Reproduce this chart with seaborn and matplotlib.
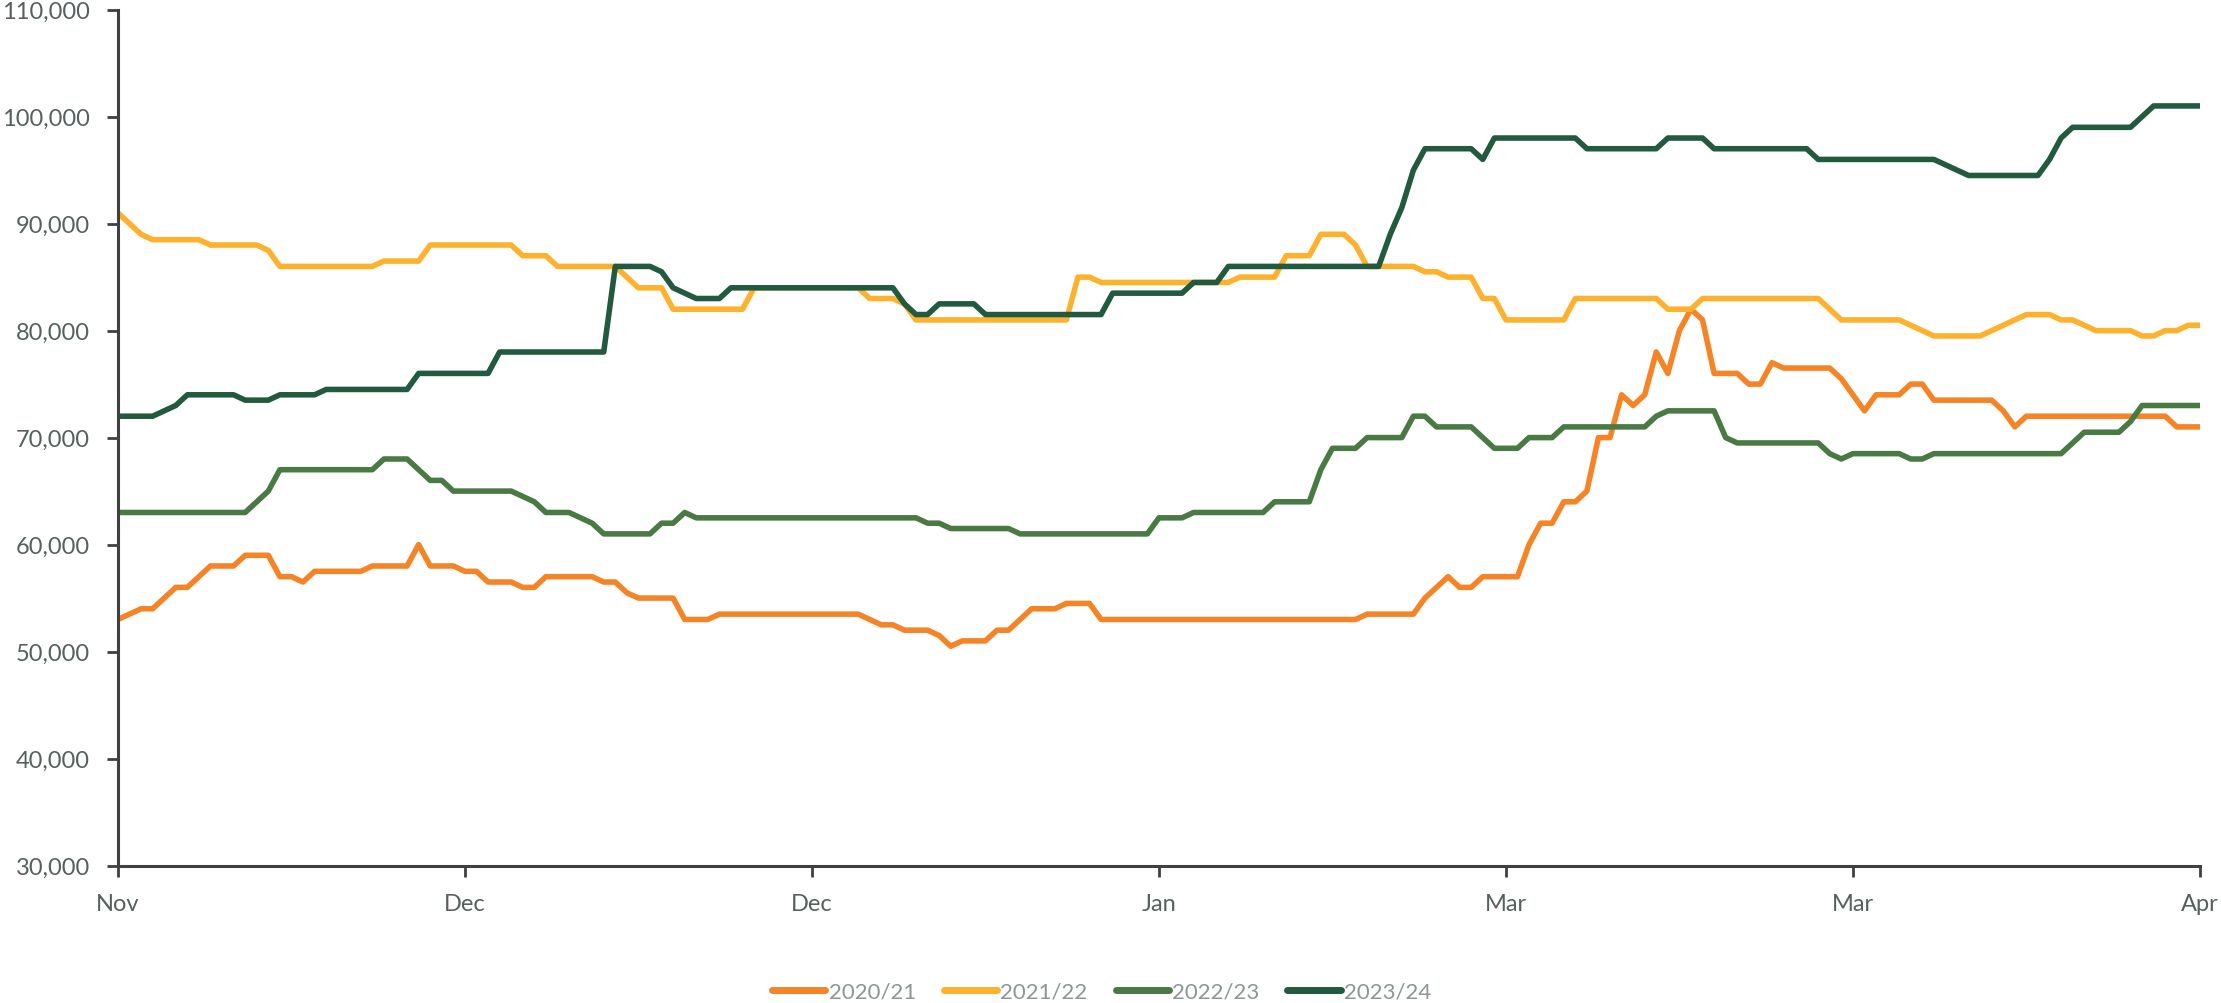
import matplotlib
matplotlib.use("Agg")
import matplotlib.pyplot as plt
import matplotlib.dates as mdates
from matplotlib.ticker import FuncFormatter, MultipleLocator
import pandas as pd
import seaborn as sns

# Season labels and line colours
seasons = ["2020/21", "2021/22", "2022/23", "2023/24"]
colors = ["#F58426", "#FDB12D", "#4A7A44", "#215A3E"]

# Price series: day of season (0 = 1 Nov) and price at each change point
days_2020 = [0, 2, 3, 5, 6, 8, 10, 11, 13, 14, 15, 16, 17, 21, 22, 25, 26, 27, 29, 30,
             31, 32, 34, 35, 36, 37, 41, 42, 43, 44, 45, 48, 49, 51, 52, 64, 65, 66, 67, 68,
             70, 71, 72, 73, 75, 76, 77, 79, 81, 82, 84, 85, 107, 108, 112, 113, 114, 115, 116, 117,
             118, 121, 122, 123, 124, 125, 126, 127, 128, 129, 130, 131, 132, 133, 134, 135, 136, 137, 138, 140,
             141, 142, 143, 144, 148, 149, 151, 152, 154, 155, 156, 157, 162, 163, 164, 165, 177, 178, 180]
vals_2020 = [53000, 54000, 54000, 56000, 56000, 58000, 58000, 59000, 59000, 57000, 57000, 56500, 57500, 57500, 58000, 58000, 60000, 58000, 58000, 57500,
             57500, 56500, 56500, 56000, 56000, 57000, 57000, 56500, 56500, 55500, 55000, 55000, 53000, 53000, 53500, 53500, 53000, 52500, 52500, 52000,
             52000, 51500, 50500, 51000, 51000, 52000, 52000, 54000, 54000, 54500, 54500, 53000, 53000, 53500, 53500, 55000, 56000, 57000, 56000, 56000,
             57000, 57000, 60000, 62000, 62000, 64000, 64000, 65000, 70000, 70000, 74000, 73000, 74000, 78000, 76000, 80000, 82000, 81000, 76000, 76000,
             75000, 75000, 77000, 76500, 76500, 75500, 72500, 74000, 74000, 75000, 75000, 73500, 73500, 72500, 71000, 72000, 72000, 71000, 71000]

days_2021 = [0, 2, 3, 7, 8, 12, 13, 14, 22, 23, 26, 27, 34, 35, 37, 38, 43, 45, 47, 48,
             54, 55, 64, 65, 67, 68, 69, 82, 83, 84, 85, 96, 97, 100, 101, 103, 104, 106, 107, 108,
             112, 113, 114, 115, 117, 118, 119, 120, 125, 126, 133, 134, 136, 137, 147, 149, 154, 155, 157, 161,
             162, 163, 164, 165, 167, 168, 169, 170, 171, 174, 175, 176, 177, 178, 179, 180]
vals_2021 = [91000, 89000, 88500, 88500, 88000, 88000, 87500, 86000, 86000, 86500, 86500, 88000, 88000, 87000, 87000, 86000, 86000, 84000, 84000, 82000,
             82000, 84000, 84000, 83000, 83000, 82500, 81000, 81000, 85000, 85000, 84500, 84500, 85000, 85000, 87000, 87000, 89000, 89000, 88000, 86000,
             86000, 85500, 85500, 85000, 85000, 83000, 83000, 81000, 81000, 83000, 83000, 82000, 82000, 83000, 83000, 81000, 81000, 80500, 79500, 79500,
             80000, 80500, 81000, 81500, 81500, 81000, 81000, 80500, 80000, 80000, 79500, 79500, 80000, 80000, 80500, 80500]

days_2022 = [0, 11, 13, 14, 22, 23, 25, 26, 27, 28, 29, 34, 35, 36, 37, 39, 40, 41, 42, 46,
             47, 48, 49, 50, 69, 70, 71, 72, 77, 78, 89, 90, 92, 93, 99, 100, 103, 104, 105, 107,
             108, 111, 112, 113, 114, 117, 119, 121, 122, 124, 125, 132, 133, 134, 138, 139, 140, 147, 148, 149,
             150, 154, 155, 156, 157, 168, 170, 173, 174, 175, 180]
vals_2022 = [63000, 63000, 65000, 67000, 67000, 68000, 68000, 67000, 66000, 66000, 65000, 65000, 64500, 64000, 63000, 63000, 62500, 62000, 61000, 61000,
             62000, 62000, 63000, 62500, 62500, 62000, 62000, 61500, 61500, 61000, 61000, 62500, 62500, 63000, 63000, 64000, 64000, 67000, 69000, 69000,
             70000, 70000, 72000, 72000, 71000, 71000, 69000, 69000, 70000, 70000, 71000, 71000, 72000, 72500, 72500, 70000, 69500, 69500, 68500, 68000,
             68500, 68500, 68000, 68000, 68500, 68500, 70500, 70500, 71500, 73000, 73000]

days_2023 = [0, 3, 5, 6, 10, 11, 13, 14, 17, 18, 25, 26, 32, 33, 42, 43, 46, 47, 48, 50,
             52, 53, 67, 68, 69, 70, 71, 74, 75, 85, 86, 92, 93, 95, 96, 109, 110, 111, 112, 113,
             117, 118, 119, 126, 127, 133, 134, 137, 138, 146, 147, 157, 160, 166, 167, 168, 169, 174, 176, 180]
vals_2023 = [72000, 72000, 73000, 74000, 74000, 73500, 73500, 74000, 74000, 74500, 74500, 76000, 76000, 78000, 78000, 86000, 86000, 85500, 84000, 83000,
             83000, 84000, 84000, 82500, 81500, 81500, 82500, 82500, 81500, 81500, 83500, 83500, 84500, 84500, 86000, 86000, 89000, 91500, 95000, 97000,
             97000, 96000, 98000, 98000, 97000, 97000, 98000, 98000, 97000, 97000, 96000, 96000, 94500, 94500, 96000, 98000, 99000, 99000, 101000, 101000]

# Common season calendar used for the x axis
season_start = pd.Timestamp("2022-11-01")
tick_days = [0, 30, 60, 90, 120, 150, 180]

frames = []
for name, d, v in zip(seasons,
                      [days_2020, days_2021, days_2022, days_2023],
                      [vals_2020, vals_2021, vals_2022, vals_2023]):
    frames.append(pd.DataFrame({
        "date": season_start + pd.to_timedelta(d, unit="D"),
        "price": v,
        "season": name,
    }))
df = pd.concat(frames, ignore_index=True)

sns.set_theme(style="white")
plt.rcParams["font.family"] = ["Lato", "DejaVu Sans"]

fig = plt.figure(figsize=(22.21, 10.04), dpi=100)
ax = fig.add_axes([0.0531, 0.1369, 0.9374, 0.8525])

sns.lineplot(data=df, x="date", y="price", hue="season", hue_order=seasons,
             palette=dict(zip(seasons, colors)), linewidth=4, sort=False,
             estimator=None, ax=ax, legend=True)
for line in ax.get_lines():
    line.set_solid_joinstyle("round")
    line.set_solid_capstyle("round")

ax.set_xlim(season_start, season_start + pd.Timedelta(days=180))
ax.set_ylim(30000, 110000)
ax.set_xticks([season_start + pd.Timedelta(days=t) for t in tick_days])
ax.xaxis.set_major_formatter(mdates.DateFormatter("%b"))
ax.yaxis.set_major_locator(MultipleLocator(10000))
ax.yaxis.set_major_formatter(FuncFormatter(lambda v, _: f"{v:,.0f}"))
ax.set_xlabel("")
ax.set_ylabel("")

for side in ["top", "right"]:
    ax.spines[side].set_visible(False)
for side in ["left", "bottom"]:
    ax.spines[side].set_color("#404040")
    ax.spines[side].set_linewidth(2.2)

ax.tick_params(axis="both", which="major", direction="out", length=8, width=2,
               color="#404040", labelsize=17, labelcolor="#56605D", pad=12)
ax.tick_params(axis="x", bottom=True)
ax.tick_params(axis="y", left=True)

handles, labels = ax.get_legend_handles_labels()
ax.get_legend().remove()
for h in handles:
    h.set_linewidth(5)
    h.set_solid_capstyle("round")
leg = fig.legend(handles, labels, loc="center", bbox_to_anchor=(0.496, 0.011),
                 ncol=4, frameon=False, fontsize=16, handlelength=2.4,
                 handletextpad=0.15, columnspacing=1.25)
for t in leg.get_texts():
    t.set_color("#8C9794")

fig.savefig("out.png", dpi=100)
